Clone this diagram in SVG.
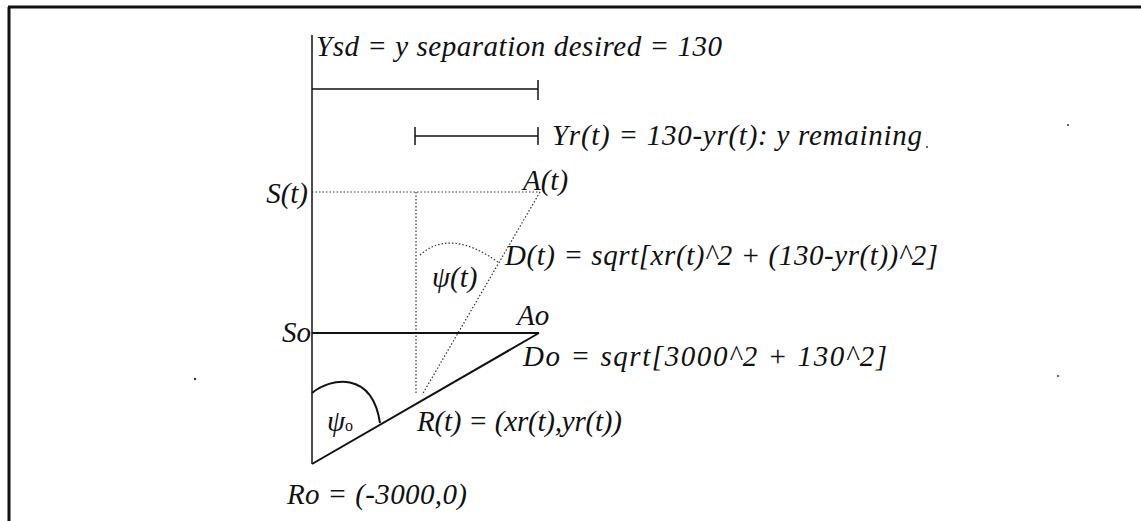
<svg xmlns="http://www.w3.org/2000/svg" width="1141" height="521" viewBox="0 0 1141 521">
<style>
text{font-family:"Liberation Serif","Times New Roman",serif;font-style:italic;font-size:29px;fill:#111}
.solid{stroke:#111;stroke-width:2;fill:none}
.thin{stroke:#111;stroke-width:1.5;fill:none}
.dot{stroke:#333;stroke-width:1.2;stroke-dasharray:1.5 2;fill:none}
</style>
<rect width="1141" height="521" fill="#fff"/>
<g id="frame">
<path d="M8,7 H1141 M9,7 V521" stroke="#111" stroke-width="3" fill="none"/>
</g>
<g id="connectors">
<line class="thin" x1="312" y1="35" x2="312" y2="464"/>
<line class="thin" x1="312" y1="89" x2="538" y2="89"/>
<line class="thin" x1="538" y1="80" x2="538" y2="100"/>
<line class="thin" x1="415" y1="136" x2="538" y2="136"/>
<line class="thin" x1="415" y1="127" x2="415" y2="145"/>
<line class="thin" x1="538" y1="127" x2="538" y2="145"/>
<line class="dot" x1="312" y1="192" x2="540" y2="192"/>
<line class="dot" x1="416" y1="192" x2="416" y2="395"/>
<line class="dot" x1="540" y1="192" x2="422" y2="395"/>
<path class="dot" d="M420,255 Q450,228 498,262"/>
<line class="solid" x1="312" y1="333" x2="539" y2="333"/>
<line class="solid" x1="539" y1="333" x2="312" y2="464"/>
<path class="solid" d="M312,393 C330,378 372,370 380,423"/>
</g>
<g id="labels">
<text id="ysd" x="316" y="56" textLength="406">Ysd = y separation desired = 130</text>
<text id="yr" x="552" y="145" textLength="370">Yr(t) = 130-yr(t):  y remaining</text>
<text id="st" x="308" y="203" text-anchor="end">S(t)</text>
<text id="at" x="523" y="190">A(t)</text>
<text id="psit" x="432" y="287">ψ(t)</text>
<text id="dt" x="505" y="265" textLength="433">D(t) = sqrt[xr(t)^2 + (130-yr(t))^2]</text>
<text id="ao" x="517" y="325">Ao</text>
<text id="so" x="311" y="342" text-anchor="end">So</text>
<text id="do" x="523" y="366" textLength="364">Do =  sqrt[3000^2 + 130^2]</text>
<text id="psio" x="327" y="431">ψ<tspan font-size="16" font-style="normal">o</tspan></text>
<text id="rt" x="417" y="431" textLength="205">R(t) = (xr(t),yr(t))</text>
<text id="ro" x="287" y="504" textLength="180">Ro = (-3000,0)</text>
</g>
<g id="specks" fill="#333">
<circle cx="927" cy="147" r="1"/>
<circle cx="1068" cy="125" r="1"/>
<circle cx="1058" cy="376" r="1"/>
<circle cx="195" cy="379" r="1.2"/>
</g>
</svg>
